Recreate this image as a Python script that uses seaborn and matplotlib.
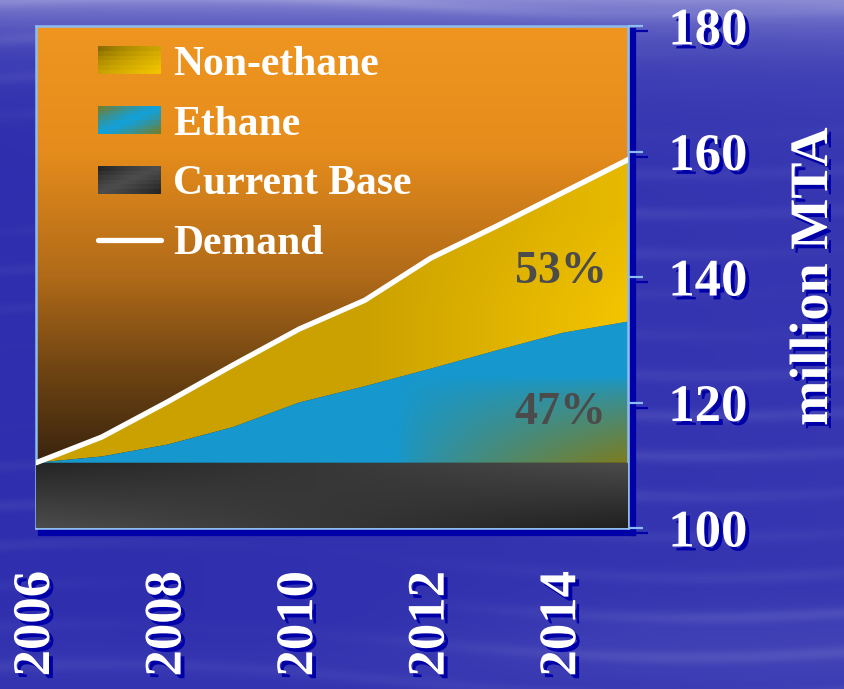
import numpy as np
import matplotlib
matplotlib.use("Agg")
import matplotlib.pyplot as plt
import seaborn as sns
from matplotlib import patheffects as pe
from matplotlib.colors import to_rgb
from matplotlib.legend_handler import HandlerBase
from matplotlib.patches import Rectangle, Patch
from matplotlib.lines import Line2D

# ---- data (million MTA) ----
years = [2006, 2007, 2008, 2009, 2010, 2011, 2012, 2013, 2014, 2015]
current_base = [110.4, 110.4, 110.4, 110.4, 110.4, 110.4, 110.4, 110.4, 110.4, 110.4]
ethane_top = [110.4, 111.4, 113.3, 116.1, 120.0, 122.6, 125.4, 128.3, 131.1, 132.9]
demand = [110.4, 114.5, 120.1, 126.0, 131.7, 136.3, 143.0, 148.1, 153.4, 158.7]
x_tick_labels = ["2006", "", "2008", "", "2010", "", "2012", "", "2014", ""]
y_ticks = [100, 120, 140, 160, 180]
legend_labels = ["Non-ethane", "Ethane", "Current Base", "Demand"]
share_labels = ["53%", "47%"]

sns.set_theme(style="white")
plt.rcParams["font.family"] = ["Liberation Serif", "DejaVu Serif"]
plt.rcParams["font.weight"] = "bold"

W, H = 844, 689
fig = plt.figure(figsize=(W / 100, H / 100), dpi=100)

SHADOW = "#0000a8"
LIGHT = "#8cbcf0"
shadow_fx = [pe.SimplePatchShadow(offset=(2.8, -2.8), shadow_rgbFace=SHADOW, alpha=1.0), pe.Normal()]


def lerp(c1, c2, t):
    a = np.array(to_rgb(c1))
    b = np.array(to_rgb(c2))
    t = np.clip(t, 0, 1)[..., None]
    return a * (1 - t) + b * t


# ---- sky background ----
bg_ax = fig.add_axes([0, 0, 1, 1], zorder=-10)
yy, xx = np.mgrid[0:H, 0:W].astype(float)
warp = 2.0 * np.sin(xx * 0.006 + 0.7) + 1.2 * np.sin(xx * 0.0023 + yy * 0.004)
streaks = (0.5 + 0.5 * np.sin(yy * 0.16 + warp)) ** 4
envelope = np.clip(0.5 + 0.6 * np.sin(xx * 0.005 + yy * 0.011) * np.cos(yy * 0.017 - xx * 0.002), 0, 1)
light = 0.72 * np.exp(-yy / 38.0) + 0.14 * streaks * envelope
light += 0.10 * np.exp(-((yy - 650) / 50) ** 2) * envelope + 0.07 * (xx / W)
sky = lerp("#2e2eae", "#a4a4de", light)
bg_ax.imshow(sky, extent=[0, 1, 0, 1], aspect="auto", origin="upper", interpolation="bilinear")
bg_ax.set_axis_off()

# ---- axes geometry ----
left, right, top, bottom = 36, 628, 26, 528
pos = [left / W, 1 - bottom / H, (right - left) / W, (bottom - top) / H]
xlim = (years[0], years[-1])
ylim = (y_ticks[0], y_ticks[-1])

# dark offset copy of the frame and ticks
sh = fig.add_axes([pos[0] + 5 / W, pos[1] - 5 / H, pos[2], pos[3]], zorder=0)
sh.set_xlim(xlim)
sh.set_ylim(ylim)
sh.patch.set_alpha(0)
sh.set_xticks(years)
sh.set_yticks(y_ticks)
sh.yaxis.tick_right()
sh.tick_params(axis="both", colors=SHADOW, width=1.6, length=11, direction="out",
               labelbottom=False, labelright=False, labelleft=False)
for s in ["top", "left"]:
    sh.spines[s].set_visible(False)
for s in ["bottom", "right"]:
    sh.spines[s].set_color(SHADOW)
    sh.spines[s].set_linewidth(4.5)

ax = fig.add_axes(pos, zorder=1)
ax.set_xlim(xlim)
ax.set_ylim(ylim)
ax.patch.set_alpha(0)

# plot-area backdrop: orange fading to dark brown
gy, gx = np.mgrid[100:180:400j, 2006:2015:300j]
stops_v = [100, 110, 125, 140, 160, 180]
stops_c = [to_rgb(c) for c in ["#30200c", "#38230e", "#6e4412", "#b06a18", "#e58c1c", "#ef9520"]]
back = np.stack([np.interp(gy, stops_v, [c[i] for c in stops_c]) for i in range(3)], axis=-1)
ax.imshow(back, extent=[2006, 2015, 100, 180], origin="lower", aspect="auto", zorder=0)

# stacked supply areas with gradient fills
base_poly = ax.fill_between(years, ylim[0], current_base, facecolor="none", lw=0)
eth_poly = ax.fill_between(years, current_base, ethane_top, facecolor="none", lw=0)
non_poly = ax.fill_between(years, ethane_top, demand, facecolor="none", lw=0)

t_non = np.clip((gx - 2011.0) / 4.0, 0, 1) * (0.7 + 0.3 * np.clip((150 - gy) / 15, 0, 1))
non_img = lerp("#cba100", "#f3c400", t_non)
w_eth = (np.clip((gx - 2011.5) / 3.5, 0, 1) * np.clip((124 - gy) / 13.5, 0, 1)) ** 0.75
eth_img = lerp("#1698ce", "#7b7d22", w_eth)
xn = (gx - 2006) / 9.0
yl = np.clip((gy - 100) / 10.4, 0, 1)
g = (76 - 40 * (1 - xn) * yl - 44 * xn * (1 - yl)) / 255.0
base_img = np.stack([g, g, g], axis=-1)

for img, poly, z in [(non_img, non_poly, 1), (eth_img, eth_poly, 2), (base_img, base_poly, 3)]:
    im = ax.imshow(img, extent=[2006, 2015, 100, 180], origin="lower", aspect="auto", zorder=z)
    im.set_clip_path(poly.get_paths()[0], ax.transData)

# demand line
sns.lineplot(x=years, y=demand, ax=ax, color="white", linewidth=3.8, zorder=5,
             solid_capstyle="round", legend=False)

# share annotations
ax.text(2014.67, 140.8, share_labels[0], ha="right", va="center", fontsize=33,
        color="#4b4b4b", fontweight="bold", zorder=6)
ax.text(2014.67, 118.3, share_labels[1], ha="right", va="center", fontsize=33,
        color="#4b4b4b", fontweight="bold", zorder=6)

# ticks, labels, frame
ax.set_xticks(years)
ax.set_xticklabels(x_tick_labels, rotation=90)
ax.set_yticks(y_ticks)
ax.yaxis.tick_right()
ax.yaxis.set_label_position("right")
ax.tick_params(axis="x", colors=LIGHT, width=1.6, length=11, direction="out", pad=20,
               labelcolor="white", labelsize=38)
ax.tick_params(axis="y", colors=LIGHT, width=1.6, length=11, direction="out", pad=18,
               labelcolor="white", labelsize=38)
for lab in ax.get_xticklabels() + ax.get_yticklabels():
    lab.set_fontweight("bold")
    lab.set_path_effects(shadow_fx)
for s in ax.spines.values():
    s.set_color(LIGHT)
    s.set_linewidth(1.8)
ax.set_ylabel("million MTA", fontsize=39, fontweight="bold", color="white", labelpad=30,
              rotation=90)
ax.yaxis.label.set_path_effects(shadow_fx)
ax.grid(False)


# legend swatches with gradient fill
class GradientHandler(HandlerBase):
    def __init__(self, colorfunc, nx=20, ny=6):
        super().__init__()
        self.colorfunc = colorfunc
        self.nx, self.ny = nx, ny

    def create_artists(self, legend, orig_handle, xdescent, ydescent, width, height, fontsize, trans):
        arts = []
        cw, ch = width / self.nx, height / self.ny
        for i in range(self.nx):
            for j in range(self.ny):
                u = (i + 0.5) / self.nx
                v = (j + 0.5) / self.ny
                r = Rectangle((-xdescent + i * cw, -ydescent + j * ch), cw * 1.08, ch * 1.08,
                              facecolor=self.colorfunc(u, v), edgecolor="none", lw=0, transform=trans)
                arts.append(r)
        return arts


def non_color(u, v):
    s = (u + (1 - v)) / 2
    return tuple(lerp("#6a5300", "#f6c800", np.array(s ** 0.55)))


def eth_color(u, v):
    s = (u + (1 - v)) / 2
    w = abs(s - 0.5) * 2
    return tuple(lerp("#12a0d8", "#7b7a1c", np.array(w ** 1.3)))


def base_color(u, v):
    s = (u + (1 - v)) / 2
    w = abs(s - 0.5) * 2
    return tuple(lerp("#4c4c4c", "#202020", np.array(w ** 1.2)))


h_non, h_eth, h_base = Patch(), Patch(), Patch()
h_dem = Line2D([], [], color="white", linewidth=3.8, solid_capstyle="round")
leg = ax.legend([h_non, h_eth, h_base, h_dem], legend_labels,
                handler_map={h_non: GradientHandler(non_color),
                             h_eth: GradientHandler(eth_color),
                             h_base: GradientHandler(base_color)},
                loc="upper left", bbox_to_anchor=(0.105, 0.96), frameon=False,
                prop={"family": "Liberation Serif", "weight": "bold", "size": 30},
                labelcolor="white", handlelength=1.5, handleheight=0.65, handletextpad=0.3,
                labelspacing=0.52, borderaxespad=0, borderpad=0)
leg.set_zorder(7)

fig.savefig("out.png", dpi=100)
